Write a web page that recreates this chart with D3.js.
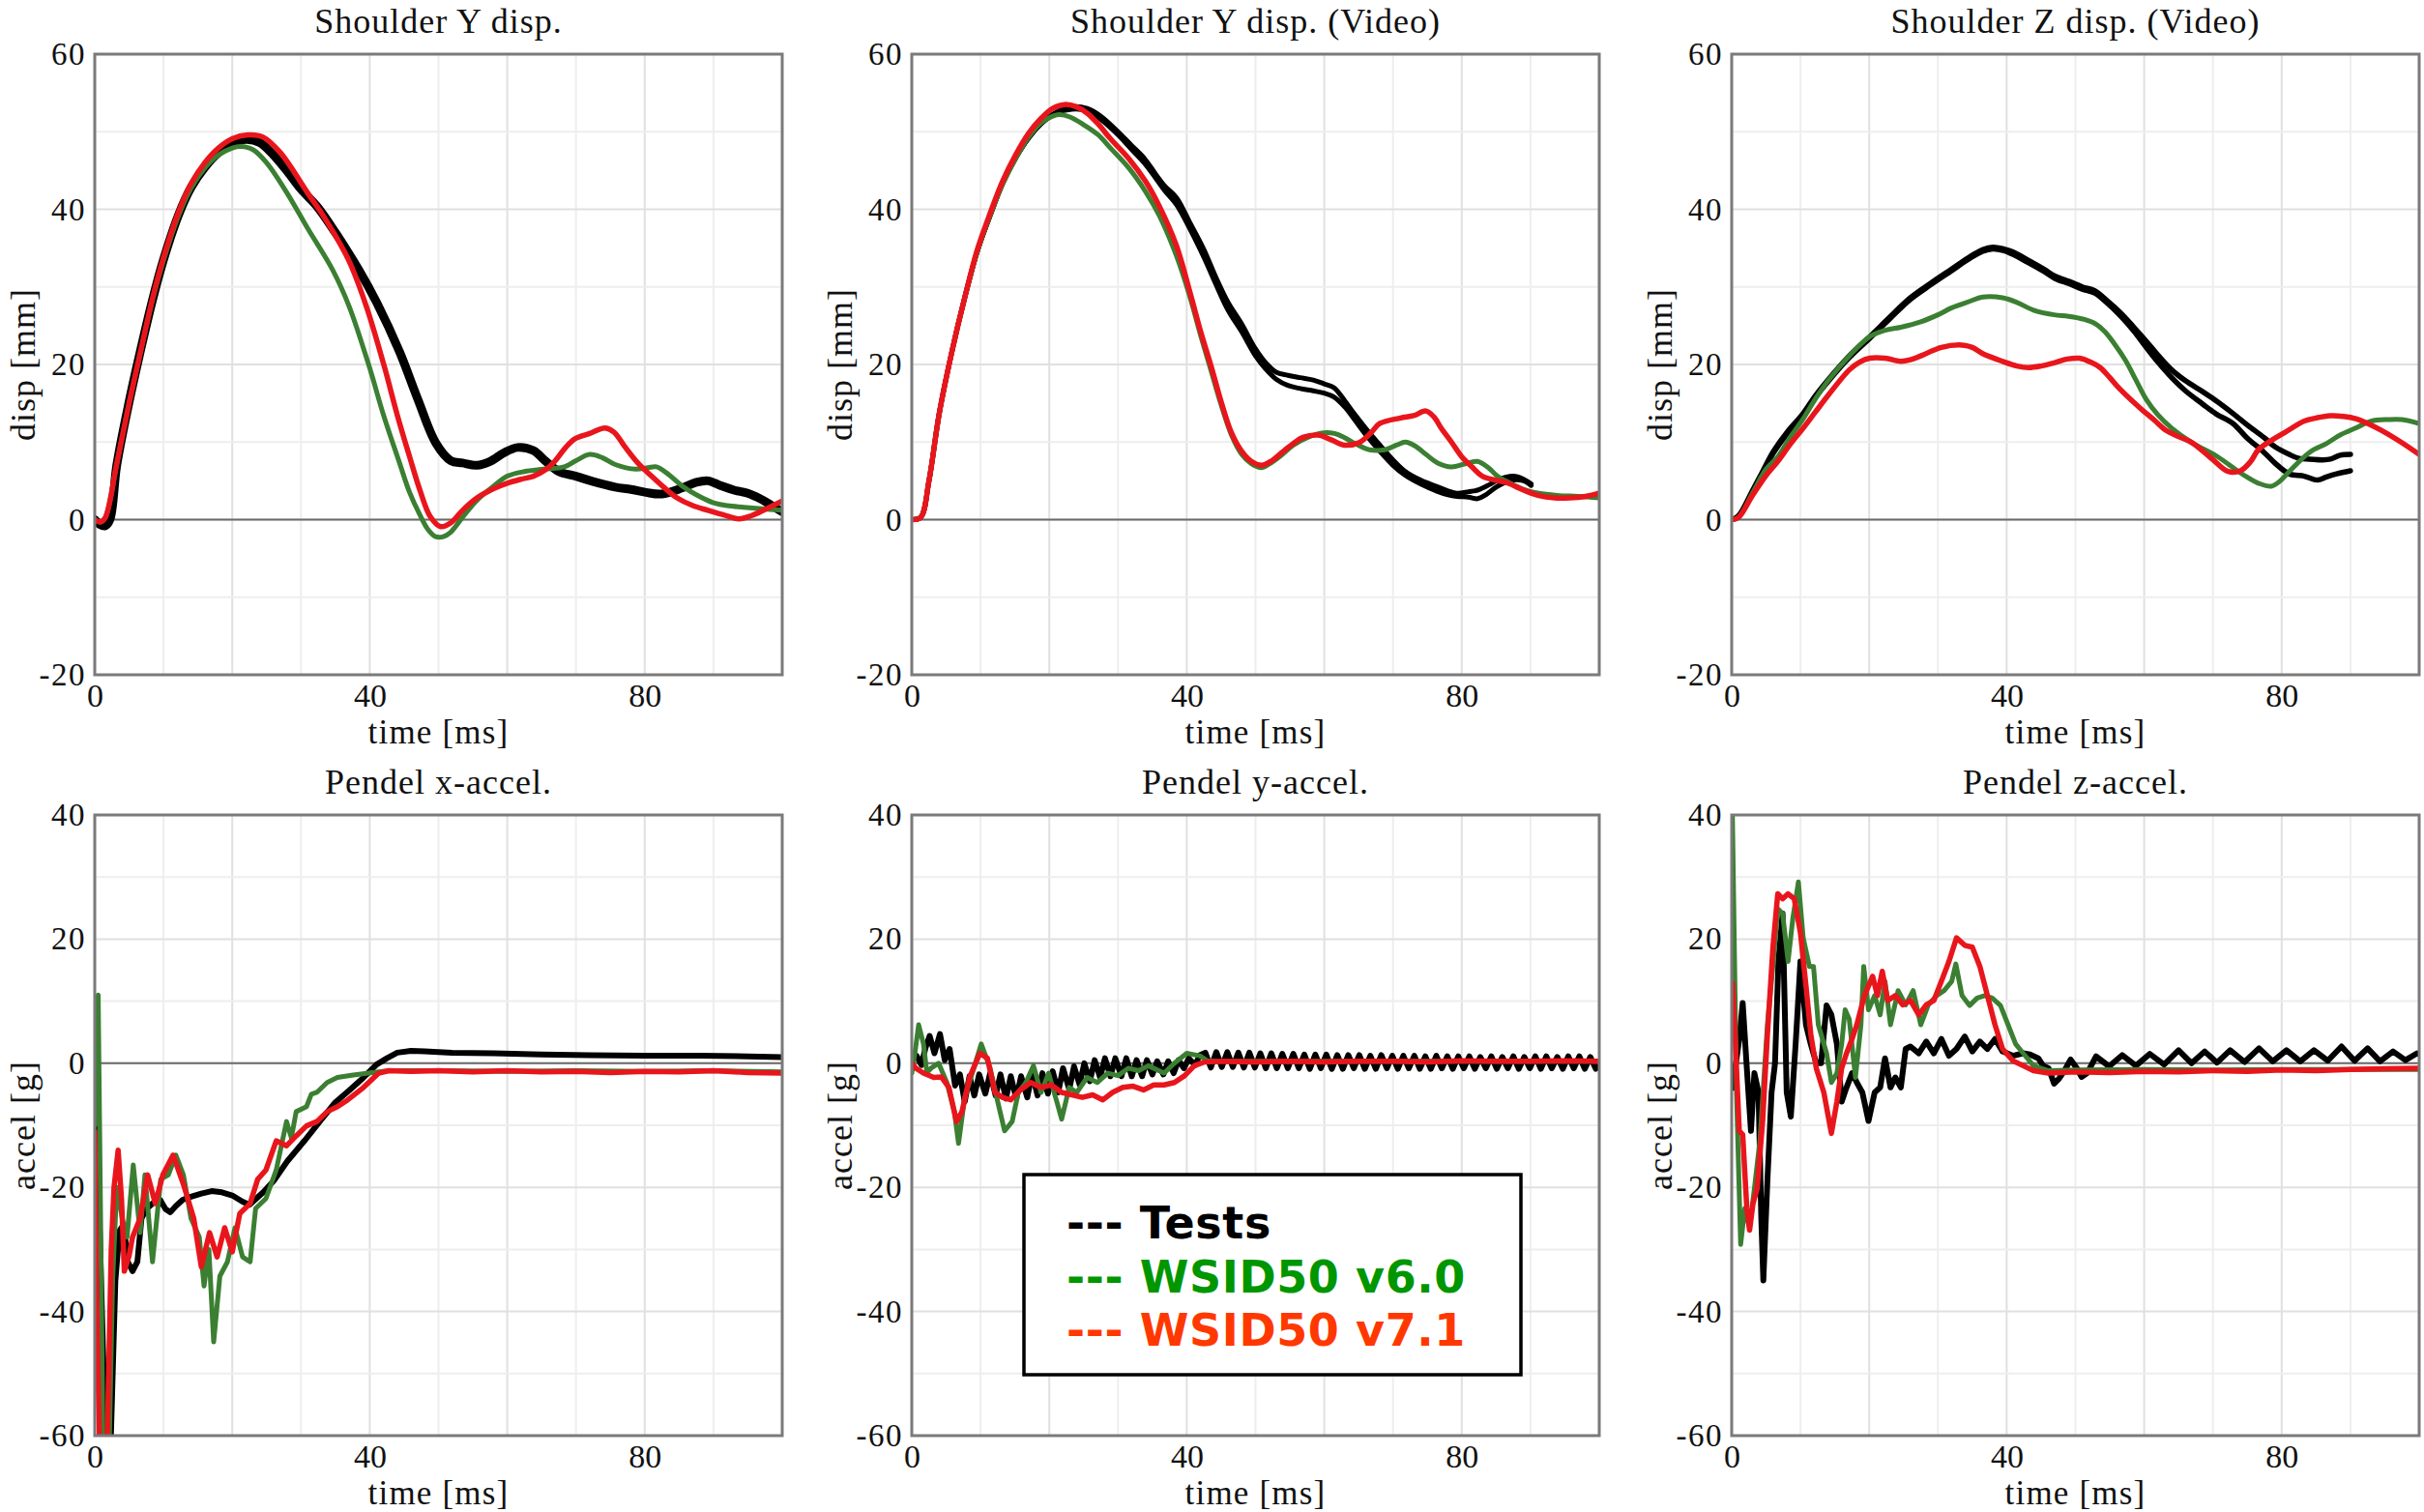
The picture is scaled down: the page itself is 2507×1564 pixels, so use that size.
<!DOCTYPE html>
<html><head><meta charset="utf-8">
<script src="https://cdn.jsdelivr.net/npm/d3@7/dist/d3.min.js"></script>
<style>body{margin:0;background:#fff}svg{display:block}</style>
</head><body><svg id="c" width="2507" height="1564"></svg>
<script>
// ---------- DATA (time [ms], value) ----------
const titles = ["Shoulder Y disp.", "Shoulder Y disp. (Video)", "Shoulder Z disp. (Video)",
                "Pendel x-accel.", "Pendel y-accel.", "Pendel z-accel."];
const yLabels = ["disp [mm]", "disp [mm]", "disp [mm]", "accel [g]", "accel [g]", "accel [g]"];
const xLabel = "time [ms]";
const xTicks = [0, 40, 80];
const yTicksDisp = [-20, 0, 20, 40, 60];
const yTicksAccel = [-60, -40, -20, 0, 20, 40];
const legendLabels = ["Tests", "WSID50 v6.0", "WSID50 v7.1"];

const p1Test = [[0,0],[0.7,-0.6],[1.5,-0.8],[2.2,0],[3.2,7],[5,15.2],[6.5,21.2],[8.4,28.3],[10,33.5],[12.2,39.3],[14,42.8],[16,45.4],[18,47.3],[20,48.5],[22,49],[24,48.6],[26,47],[28,44.9],[30,42.6],[32.4,40.3],[35,37],[38.4,32.2],[41,28],[44.3,21.7],[47,15.5],[49.6,9.9],[51.8,7.6],[53.5,7.3],[55.6,7.0],[57.5,7.5],[59.5,8.6],[61.5,9.3],[63.8,8.9],[65.5,7.6],[67.5,6.2],[70,5.6],[72.5,4.9],[75.7,4.2],[78,3.9],[80.2,3.5],[82.5,3.3],[85.5,4.1],[87.5,4.8],[89.2,5.0],[91,4.4],[93,3.8],[95,3.4],[97,2.6],[98.5,1.8],[100,1.0]];
const p1V60 = [[0,0],[0.8,-0.3],[1.5,0.2],[3.2,7.2],[5,15],[6.5,21],[8.4,28.3],[10,33.4],[12.2,39.2],[14,42.7],[16,45.3],[18,47],[20,47.9],[21.2,48.1],[23,47.7],[25,46],[27.9,42.2],[31,37.5],[34.6,32.2],[37,27.5],[39.9,19.8],[42,13.5],[44.3,7.4],[45.8,3.5],[47.3,0.6],[48.5,-1.3],[49.6,-2.2],[50.7,-2.2],[51.8,-1.6],[53.5,0.3],[55.6,2.5],[58,4.3],[60,5.6],[62.5,6.2],[65.3,6.5],[68.3,6.8],[70,7.6],[72,8.4],[73.8,8.0],[75.7,7.1],[78.7,6.5],[80.5,6.7],[81.7,6.8],[83.5,5.8],[85.5,4.3],[87.5,3.2],[89.9,2.2],[92,1.8],[94.4,1.6],[97,1.4],[100,1.2]];
const p1V71 = [[0,0],[0.8,-0.3],[1.5,0.2],[3.2,7.2],[5,15],[6.5,21],[8.4,28.5],[10,33.8],[12.2,39.7],[14,43.3],[16,46],[18,47.9],[20,49.1],[22.5,49.6],[24.5,49.3],[27,47.3],[30.9,42.2],[33.5,38.8],[36.9,33.5],[39.5,27.5],[42.1,19.8],[44,13.5],[45.8,8.1],[47.3,3.8],[48.8,0.4],[50.3,-0.9],[51.8,-0.4],[53.5,1.2],[55.6,2.8],[58,4.0],[60,4.7],[62,5.2],[63.8,5.6],[65.5,6.4],[66.8,7.4],[68.5,9.3],[69.8,10.4],[72,11.1],[74.2,11.8],[75.5,11.3],[77.2,9.3],[79,7.3],[81,5.6],[83,4.0],[84.7,2.8],[87,1.8],[89.2,1.2],[91.5,0.6],[93.7,0.1],[95.5,0.5],[97.5,1.3],[100,2.4]];

const p2TestA = [[0,0],[1.3,0.3],[2.5,5],[4,13.7],[5.8,21.5],[7.7,28.6],[9.5,34.5],[11.4,39.2],[13.2,43.3],[15.1,46.6],[17,49.2],[18.9,51.1],[21,52.5],[23.3,53.2],[25.5,53],[27.5,52],[30,50],[32,48.2],[33.8,46.6],[35.5,44.5],[36.8,43],[38.5,41.5],[40.5,38.2],[42.5,34.8],[44.2,31.3],[46,28],[48,25.2],[50,22],[51.5,20.2],[53,19],[54.7,18.6],[56.5,18.3],[58.4,18],[60,17.5],[61.4,17.0],[63,15.3],[64.4,13.6],[66,11.8],[68.1,9.6],[70,7.7],[71.8,6.2],[74,5.1],[76.3,4.3],[78,3.7],[79.3,3.4],[81,3.6],[82.3,3.8],[84,4.5],[85.2,5.1],[87.5,5.6],[89,5.2],[90.1,4.6]];
const p2TestB = [[0,0],[1.3,0.3],[2.5,5],[4,13.7],[5.8,21.5],[7.7,28.6],[9.5,34.5],[11.4,39.2],[13.2,43.3],[15.1,46.6],[17,49.2],[18.9,51.1],[21,52.4],[23.3,52.9],[25.5,52.7],[27.5,51.6],[30,49.6],[32,47.7],[33.8,46],[35.5,44],[36.8,42.4],[38.5,40.6],[40.5,37.4],[42.5,33.8],[44.2,30.4],[46,27],[48,24.2],[50,21.1],[51.5,19.4],[53,18.1],[54.7,17.3],[56.5,16.9],[58.4,16.6],[60,16.3],[61.4,15.8],[63,14.5],[64.4,12.9],[66,11.0],[68.1,8.8],[70,7.0],[71.8,5.7],[74,4.6],[76.3,3.7],[78,3.2],[79.3,3.0],[81,2.9],[82.3,2.7],[83.5,3.2],[85.2,4.3],[87.5,5.1],[89,5.0],[90.1,4.4]];
const p2V60 = [[0,0],[1.3,0.3],[2.5,5],[4,13.7],[5.8,21.5],[7.7,28.6],[9.5,34.5],[11.4,39.2],[13.2,43.2],[15.1,46.5],[17,49.3],[18.9,51.2],[20.5,52],[21.5,52.2],[23,51.9],[25,50.9],[27.1,49.6],[29,47.8],[31.5,45.4],[34,42.3],[36,39.2],[38.5,34],[40.5,28.6],[42,23.8],[43.5,19.3],[45,14.8],[46.5,10.9],[48,8.4],[49.4,7.2],[50.9,6.7],[52.4,7.4],[53.9,8.4],[55.5,9.6],[57.6,10.6],[59.9,11.2],[61.5,11.1],[62.9,10.6],[64.5,9.8],[66.6,9.0],[68.8,9.0],[70.5,9.6],[71.8,10.0],[73.2,9.5],[74.8,8.4],[76.5,7.3],[78.5,6.8],[80.5,7.2],[82.3,7.5],[84,6.6],[85.2,5.6],[87.5,4.5],[89.7,3.7],[92,3.3],[94.2,3.1],[97,3.0],[100,2.8]];
const p2V71 = [[0,0],[1.3,0.3],[2.5,5],[4,13.7],[5.8,21.5],[7.7,28.6],[9.5,34.7],[11.4,39.5],[13.2,43.6],[15.1,47],[17,49.8],[18.9,51.8],[20.5,53],[22.2,53.5],[24,53.2],[25.5,52.4],[27.1,51],[29,49],[31.5,46.6],[34,43.6],[36,40.4],[38.5,35.3],[40.5,29.2],[42,24.3],[43.5,19.9],[45,15.2],[46.5,11.2],[48,8.8],[49.4,7.5],[50.9,7.0],[52.4,7.6],[53.9,8.7],[55.5,9.8],[56.9,10.6],[59.1,10.9],[61,10.3],[62.9,9.6],[65.1,9.95],[66.8,11.2],[68.1,12.4],[71.1,13.1],[73,13.4],[74.8,14],[76,13.2],[77,11.8],[78.5,10],[80,8.1],[81.5,6.8],[83,5.6],[86.7,4.7],[89,3.8],[91.2,3.1],[93.5,2.8],[95.7,2.8],[98,3.0],[100,3.4]];

const p3TestA = [[0,0],[1,0.5],[3,3.7],[4.5,6.2],[6,8.7],[8,11.2],[10.4,13.7],[12.2,16],[14.1,18.1],[17,21],[20.1,23.6],[23,26.1],[26,28.6],[29,30.5],[32,32.3],[34.5,33.8],[36.5,34.8],[38,35.1],[39.5,34.9],[40.9,34.5],[43,33.5],[45.4,32.3],[47,31.4],[49.1,30.7],[51,30],[52.8,29.5],[54.5,28.3],[56.5,26.7],[58.5,24.8],[60.3,23],[62,21.2],[64,19.3],[66,17.9],[68.5,16.5],[70.5,15.3],[72.9,13.7],[75,12.2],[77.4,10.6],[79,9.4],[81.1,8.4],[82.5,7.9],[84.1,7.8],[86,7.7],[87.1,7.8],[88.5,8.3],[90,8.4]];
const p3TestB = [[0,0],[1,0.4],[3,3.5],[4.5,6],[6,8.5],[8,11],[10.4,13.5],[12.2,15.8],[14.1,17.9],[17,20.8],[20.1,23.4],[23,25.9],[26,28.4],[29,30.3],[32,32.1],[34.5,33.6],[36.5,34.6],[38,34.9],[39.5,34.7],[40.9,34.2],[43,33.2],[45.4,32.0],[47,31.1],[49.1,30.4],[51,29.7],[52.8,29.2],[54.5,28.0],[56.5,26.3],[58.5,24.3],[60.3,22.2],[62,20.3],[64,18.3],[66,16.6],[68.5,14.9],[70.5,13.6],[72.9,12.4],[75,10.5],[77.4,8.7],[79,7.3],[81.1,5.9],[83.3,5.6],[85.2,5.1],[86.5,5.5],[88,5.9],[90,6.3]];
const p3V60 = [[0,0],[1,0.3],[3,3.4],[5,6.5],[6.7,8.1],[8.5,10.6],[10.4,13],[12.2,15.6],[14.1,18],[17.1,21.1],[20.1,23.6],[22.3,24.4],[24.6,24.8],[27.5,25.5],[30,26.4],[32,27.3],[34.5,28.1],[36.5,28.7],[39.4,28.6],[41.5,28],[43.9,27],[46.9,26.4],[49,26.2],[51.3,25.8],[53,25.2],[54.3,24.2],[55.8,22.5],[57.3,20.5],[58.8,18],[60.3,15.5],[62,13.5],[64,11.8],[67,9.9],[70.7,8.1],[73.7,6.2],[75.5,5.2],[76.6,4.7],[78.5,4.3],[79.8,5.0],[81.1,6.2],[84.1,8.7],[86.5,9.8],[88.5,10.9],[91,11.9],[93,12.7],[95.5,12.9],[97.5,12.9],[100,12.4]];
const p3V71 = [[0,0],[1,0.3],[3,3.1],[5,5.7],[6.7,7.5],[8.5,9.7],[10.4,11.8],[12.2,13.9],[14.1,16.1],[17.1,19.3],[18.6,20.3],[20.1,20.8],[22.3,20.8],[24.6,20.4],[26,20.6],[27.5,21.1],[30.5,22.2],[33.5,22.5],[35,22.2],[36.5,21.4],[39.4,20.4],[41.5,19.8],[43.2,19.6],[45,19.8],[46.9,20.2],[48.8,20.7],[50.6,20.8],[52.2,20.3],[53.6,19.6],[55,18.3],[56.5,16.8],[59.5,14.3],[61.5,12.8],[63.2,11.5],[65,10.7],[67,9.9],[69.9,7.8],[72.2,6.2],[74,6.3],[75.5,7.5],[76.6,9.0],[78.5,10.2],[80.4,11.2],[83.3,12.7],[85,13.1],[87.1,13.4],[89,13.3],[90.8,13],[92.5,12.4],[94.5,11.5],[97.5,9.9],[100,8.4]];

const p4Test = [[0,-2],[0.8,-30],[1.6,-62],[2.3,-62],[3,-35],[3.6,-27],[4.2,-26],[4.8,-32],[5.5,-33.5],[6.2,-32],[6.8,-25],[7.5,-23.5],[8.5,-22.5],[9.5,-22],[10.3,-23.5],[11,-24],[11.8,-23],[12.8,-22],[14,-21.5],[15.5,-21],[17,-20.6],[18.5,-20.8],[20,-21.3],[21.5,-22.3],[22.5,-22.8],[23.5,-21.8],[24.5,-20.8],[26,-19],[28,-15.8],[30.5,-12.5],[33,-9],[35,-6.3],[37,-4.4],[39,-2.4],[41,-0.2],[42.5,0.8],[44,1.7],[46,2.0],[48,1.9],[52,1.7],[58,1.6],[65,1.4],[72,1.3],[80,1.2],[88,1.2],[95,1.1],[100,1.0]];
const p4V60 = [[0,-10],[0.3,8],[0.5,11],[0.8,-20],[1.2,-62],[2.1,-62],[2.6,-35],[3.2,-20],[4,-25],[4.7,-28],[5.6,-16.4],[6.6,-27.3],[7.3,-18],[8.4,-32],[9.6,-18.7],[10.7,-18],[11.8,-14.8],[12.9,-18],[14,-25],[15.2,-28],[15.9,-35.9],[16.6,-30],[17.3,-44.9],[18.2,-34.3],[19.3,-32],[20.4,-26.5],[21.5,-31.2],[22.6,-32],[23.4,-23.4],[24.9,-21.8],[26.4,-17.2],[27.2,-13],[27.9,-9.4],[28.6,-12],[29.3,-7.8],[30.8,-7],[31.5,-5],[32.3,-4.7],[33.8,-3.1],[35.3,-2.3],[37.6,-1.9],[39.8,-1.6],[42.8,-1.2],[50,-1.2],[60,-1.3],[70,-1.2],[80,-1.3],[90,-1.2],[100,-1.4]];
const p4V71 = [[0,-11],[0.3,-40],[0.7,-62],[1.8,-62],[2.4,-30],[2.8,-20],[3.4,-14],[3.9,-22],[4.3,-33.5],[5,-31],[5.5,-28],[6.6,-25],[7.7,-18],[8.8,-22.6],[9.9,-18],[11.4,-14.8],[12.9,-19.5],[14.4,-25],[15.5,-32.8],[16.7,-27.3],[17.8,-31.2],[18.9,-26.5],[20,-30.4],[21.1,-24.2],[22.6,-22.6],[23.7,-18.7],[24.9,-17.2],[26.4,-12.5],[27.9,-13.3],[29.3,-11.7],[30.8,-10.1],[32.3,-9.4],[33.8,-7.8],[35.3,-7],[36.8,-5.9],[39.1,-3.9],[41.3,-1.6],[42.8,-1.2],[46,-1.3],[50,-1.2],[55,-1.4],[60,-1.2],[65,-1.4],[70,-1.3],[75,-1.5],[80,-1.3],[85,-1.4],[90,-1.2],[95,-1.5],[100,-1.6]];

const p5Test = [[0,0.8],[0.7,1.2],[1.4,-0.3],[2.0,2.5],[2.6,4.4],[3.3,1.6],[4.1,4.7],[4.8,0.5],[5.5,2.3],[6.3,-3.6],[7.0,-1.8],[7.7,-6.2],[8.4,-2.1],[9.1,-5.2],[9.8,-1.8],[10.7,-4.9],[11.4,-1.6],[12.2,-5.2],[12.9,-1.8],[13.7,-5.7],[14.4,-2.1],[15.2,-5.7],[15.9,-2.1],[16.8,-5.5],[17.5,-1.6],[18.3,-5.2],[19.0,-1.6],[19.8,-4.9],[20.5,-1.3],[21.3,-4.7],[22.0,-0.8],[22.9,-4.2],[23.6,-0.5],[24.4,-3.4],[25.1,0],[25.9,-2.9],[26.6,0.5],[27.4,-2.3],[28.1,0.8],[28.9,-2.1],[29.6,0.8],[30.5,-2.1],[31.2,0.8],[32.0,-2.1],[32.7,0.5],[33.5,-2.1],[34.2,0.5],[35.0,-1.8],[35.7,0.3],[36.6,-1.8],[37.3,0.3],[38.1,-1.6],[38.8,0.5],[39.6,-0.8],[40.3,0.8],[41.2,-0.3],[41.9,1.3],
  [42.7,1.7],[43.5,-0.7],[44.3,1.8],[45.1,-0.6],[45.9,1.8],[46.7,-0.6],[47.5,1.7],[48.3,-0.7],[49.1,1.7],[49.9,-0.7],[50.7,1.6],[51.5,-0.8],[52.3,1.6],[53.1,-0.8],[53.9,1.5],[54.7,-0.8],[55.5,1.5],[56.3,-0.8],[57.1,1.4],[57.9,-0.9],[58.7,1.4],[59.5,-0.8],[60.3,1.4],[61.1,-0.9],[61.9,1.3],[62.7,-0.9],[63.5,1.3],[64.3,-0.8],[65.1,1.3],[65.9,-0.9],[66.7,1.2],[67.5,-0.9],[68.3,1.3],[69.1,-0.8],[69.9,1.2],[70.7,-0.9],[71.5,1.2],[72.3,-0.8],[73.1,1.2],[73.9,-0.9],[74.7,1.1],[75.5,-0.9],[76.3,1.2],[77.1,-0.8],[77.9,1.1],[78.7,-0.9],[79.5,1.1],[80.3,-0.8],[81.1,1.1],[81.9,-0.9],[82.7,1.0],[83.5,-0.8],[84.3,1.1],[85.1,-0.9],[85.9,1.0],[86.7,-0.8],[87.5,1.1],[88.3,-0.9],[89.1,1.0],[89.9,-0.8],[90.7,1.1],[91.5,-0.9],[92.3,1.1],[93.1,-0.8],[93.9,1.0],[94.7,-0.9],[95.5,1.1],[96.3,-0.8],[97.1,1.1],[97.9,-0.9],[98.7,1.0],[99.5,-0.9],[100.3,0.6]];
const p5V60 = [[0,-1.6],[0.5,2],[1,6.2],[1.7,3.1],[2.2,-1.5],[2.8,-0.8],[3.9,0],[5.1,-3.1],[6.2,-7.8],[6.8,-12.9],[7.7,-5.5],[8.8,-1.6],[10.1,3.1],[11.4,-0.8],[12.5,-6.2],[13.5,-10.9],[14.6,-9.4],[15.5,-4.7],[16.6,-3.1],[17.7,-0.4],[18.8,-4.7],[19.9,-1.6],[21.1,-6.2],[21.8,-9],[22.9,-3.9],[24,-4.7],[25.5,-2.3],[27,-3.1],[28.5,-1.6],[30,-2],[31.5,-0.8],[33,-1.2],[34.4,-0.4],[36.7,-1.6],[38.2,0],[40,1.6],[41.9,1.2],[43,0.4],[45,0.3],[55,0.3],[70,0.3],[85,0.3],[100,0.3]];
const p5V71 = [[0,0],[0.6,-0.8],[1.7,-1.6],[3.2,-2.3],[4.3,-2.2],[5.4,-3.9],[6.5,-9.4],[7.3,-7.8],[8.4,-2.3],[9.9,1.6],[11,0.8],[12.1,-4.7],[13.2,-5.5],[14.4,-5.9],[15.8,-4.3],[17.3,-3.1],[18.8,-3.9],[20.3,-3.5],[21.8,-4.7],[23.3,-5.1],[24.8,-5.5],[26.3,-5.1],[27.8,-5.9],[29.2,-4.7],[30.7,-3.9],[32.2,-3.7],[33.7,-4.3],[35.2,-3.5],[36.7,-3.5],[38.2,-3.1],[39.7,-2],[41.1,-0.4],[42.6,0.2],[45,0.3],[50,0.2],[55,0.3],[60,0.2],[65,0.3],[70,0.3],[75,0.2],[80,0.4],[85,0.3],[90,0.3],[95,0.4],[100,0.3]];

const p6Test = [[0.1,-4],[1.1,3.9],[1.6,9.7],[2.2,-0.8],[2.8,-10.9],[3.3,-1.6],[3.9,-4.7],[4.3,-24.9],[4.6,-35],[5.2,-18.7],[5.8,-4.7],[6.3,0],[6.8,16.4],[7.4,24.1],[8,-4.7],[8.6,-8.6],[9.3,3.1],[10,16.4],[10.8,6.2],[11.5,3.1],[12.3,0],[13,0],[13.8,9.3],[14.5,7.8],[15.3,3.1],[16,-6.2],[16.7,-3.9],[17.5,-1.6],[18.2,-3.1],[19,-4.7],[19.9,-9.3],[20.8,-4.7],[21.6,-3.9],[22.3,0.8],[23.1,-3.9],[23.8,-2.3],[24.6,-3.9],[25.3,2.3],[26,2.7],[27.2,1.6],[28.3,3.5],[29.4,1.6],[30.5,3.9],[31.6,1.2],[32.7,2.3],[33.9,4.3],[35,1.9],[36.1,3.5],[37.2,2.3],[38.3,3.9],[39.4,1.9],[40.9,1.2],[42.4,1.6],[43.4,1.4],[44.6,0.8],[45.3,-0.4],[46.1,-0.8],[46.9,-3.3],[47.6,-2.5],[48.4,-1.2],[49.3,0.6],[50.2,-0.8],[50.9,-2.2],[51.7,-1.6],[53,1.1],[54.9,-0.5],[56.8,1.3],[58.8,-0.4],[60.8,1.5],[62.9,-0.2],[65,2.1],[66.9,0],[68.8,1.9],[70.6,0.1],[72.5,2.1],[74.6,0.2],[76.7,2.4],[78.7,0.3],[80.7,2.1],[82.7,0.3],[84.7,2.1],[86.7,0.4],[88.7,2.7],[90.6,0.4],[92.5,2.4],[94.3,0.3],[96.2,1.9],[98,0.5],[99.7,1.6],[100.5,1.2]];
const p6V60 = [[0.1,40],[0.7,-4.7],[1.3,-29.2],[1.9,-23.4],[2.6,-26.5],[3.3,-20.2],[4.1,-12.5],[5.2,6.2],[6.1,17.1],[6.7,24.9],[7.4,24.1],[8.2,16.4],[8.9,23.4],[9.7,29.2],[10.4,20.2],[11.3,15.6],[11.9,15.6],[12.6,6.2],[13.8,1.6],[14.5,-3.1],[15.3,-1.6],[16,3.1],[16.5,8.6],[17.1,7.1],[18,-2.3],[18.8,6.2],[19.2,15.6],[19.9,8.6],[20.8,10.9],[21.6,7.8],[22.3,13.2],[23.1,6.2],[24.2,11.7],[25.3,9.4],[26.4,11.7],[27.5,6.2],[28.6,9.4],[29.8,10.9],[30.9,11.7],[32,13.2],[32.6,16],[33.5,10.9],[34.6,9.3],[35.7,10.5],[36.8,10.9],[37.9,10.5],[39.1,9.3],[40.2,6.2],[41.3,3.1],[42.4,1.6],[43.9,-0.4],[46.1,-1.2],[50,-1.1],[60,-1.0],[70,-1.1],[80,-1.0],[90,-1.0],[100,-1.0]];
const p6V71 = [[0.1,12.9],[0.6,1.6],[1.1,-10.9],[1.6,-11.5],[2.2,-23.4],[2.6,-26.9],[3.1,-22.6],[3.7,-20.2],[4.5,-9.3],[5.2,4.7],[6,18.7],[6.7,27.3],[7.4,26.5],[8.2,27.3],[9.1,26.5],[10,21],[10.8,12.5],[11.5,4.7],[12.3,-0.8],[13.4,-4.7],[14.5,-11.3],[15.3,-6.2],[16,-0.8],[16.7,1.6],[17.5,3.9],[18.2,6.2],[19.3,10.9],[20.5,14],[21.2,10.9],[21.9,14.8],[22.7,10.1],[23.8,10.9],[24.9,9.4],[26,10.1],[27.2,7.8],[28.3,9.4],[29.4,10.1],[30.5,13.2],[31.6,16.4],[32.7,20.2],[33.9,19],[35,18.7],[36.1,15.6],[37.2,10.9],[38.3,6.2],[39.4,2.3],[40.9,0.4],[42.4,-0.4],[43.9,-1.2],[46.1,-1.6],[50,-1.4],[55,-1.5],[60,-1.3],[65,-1.4],[70,-1.2],[75,-1.3],[80,-1.1],[85,-1.2],[90,-1.0],[95,-0.9],[100,-0.8]];

// ---------- LAYOUT / STYLE ----------
const colX = [98, 943, 1791], rowY = [56, 843];
const W = 711, H = 642;
const C_TEST = "#000000", C_V60 = "#3b7f32", C_V71 = "#e8161c";
const LEG_COLORS = ["#000000", "#009600", "#ff3800"];
const SERIF = "'Liberation Serif','Times New Roman',serif";

const panels = [
  {title: titles[0], yl: yLabels[0], dom: [-20,60], ticks: yTicksDisp, smooth: true,
   series: [{d:p1Test,c:C_TEST,w:9},{d:p1V60,c:C_V60,w:5},{d:p1V71,c:C_V71,w:5.5}]},
  {title: titles[1], yl: yLabels[1], dom: [-20,60], ticks: yTicksDisp, smooth: true,
   series: [{d:p2TestA,c:C_TEST,w:5},{d:p2TestB,c:C_TEST,w:5},{d:p2V60,c:C_V60,w:5},{d:p2V71,c:C_V71,w:5.5}]},
  {title: titles[2], yl: yLabels[2], dom: [-20,60], ticks: yTicksDisp, smooth: true,
   series: [{d:p3TestA,c:C_TEST,w:5.5},{d:p3TestB,c:C_TEST,w:5.5},{d:p3V60,c:C_V60,w:5},{d:p3V71,c:C_V71,w:5.5}]},
  {title: titles[3], yl: yLabels[3], dom: [-60,40], ticks: yTicksAccel, smooth: false,
   series: [{d:p4Test,c:C_TEST,w:6},{d:p4V60,c:C_V60,w:5},{d:p4V71,c:C_V71,w:5.5}]},
  {title: titles[4], yl: yLabels[4], dom: [-60,40], ticks: yTicksAccel, smooth: false,
   series: [{d:p5Test,c:C_TEST,w:6},{d:p5V60,c:C_V60,w:5},{d:p5V71,c:C_V71,w:5.5}]},
  {title: titles[5], yl: yLabels[5], dom: [-60,40], ticks: yTicksAccel, smooth: false,
   series: [{d:p6Test,c:C_TEST,w:6},{d:p6V60,c:C_V60,w:5},{d:p6V71,c:C_V71,w:5.5}]}
];

const svg = d3.select("#c");
svg.append("rect").attr("width",2507).attr("height",1564).attr("fill","#fff");

panels.forEach((p, i) => {
  const row = Math.floor(i / 3);
  const ox = colX[i % 3], oy = rowY[row];
  const g = svg.append("g").attr("transform", `translate(${ox},${oy})`);
  const x = d3.scaleLinear().domain([0, 100]).range([0, W]);
  const y = d3.scaleLinear().domain(p.dom).range([H, 0]);

  // grid
  const gx = d3.range(10, 100, 10), gy = d3.range(p.dom[0] + 10, p.dom[1], 10);
  g.append("g").selectAll("line").data(gx).join("line")
    .attr("x1", d => x(d)).attr("x2", d => x(d)).attr("y1", 0).attr("y2", H)
    .attr("stroke", d => d % 20 === 0 ? "#e0e0e0" : "#eeeeee").attr("stroke-width", 2);
  g.append("g").selectAll("line").data(gy).join("line")
    .attr("y1", d => y(d)).attr("y2", d => y(d)).attr("x1", 0).attr("x2", W)
    .attr("stroke", d => d % 20 === 0 ? "#e0e0e0" : "#eeeeee").attr("stroke-width", 2);
  // zero line
  g.append("line").attr("x1", 0).attr("x2", W).attr("y1", y(0)).attr("y2", y(0))
    .attr("stroke", "#6a6a6a").attr("stroke-width", 2);

  // clip
  const cid = "clip" + i;
  g.append("clipPath").attr("id", cid).append("rect")
    .attr("x", 0).attr("y", 0).attr("width", W).attr("height", H);
  const line = d3.line().x(d => x(d[0])).y(d => y(d[1]))
    .curve(p.smooth ? d3.curveCatmullRom.alpha(0.5) : d3.curveLinear);
  const lg = g.append("g").attr("clip-path", `url(#${cid})`);
  p.series.forEach(s => {
    lg.append("path").attr("d", line(s.d)).attr("fill", "none")
      .attr("stroke", s.c).attr("stroke-width", s.w)
      .attr("stroke-linejoin", "round").attr("stroke-linecap", "round");
  });

  // frame
  g.append("rect").attr("x", 0).attr("y", 0).attr("width", W).attr("height", H)
    .attr("fill", "none").attr("stroke", "#7a7a7a").attr("stroke-width", 3);

  // axes
  const ya = g.append("g").call(d3.axisLeft(y).tickValues(p.ticks).tickSize(0).tickPadding(9)
    .tickFormat(d => String(d)));
  ya.select(".domain").remove();
  ya.selectAll("text").attr("font-family", SERIF).attr("font-size", 33)
    .attr("letter-spacing", 1.5).attr("fill", "#111");
  const xa = g.append("g").attr("transform", `translate(0,${H})`)
    .call(d3.axisBottom(x).tickValues(xTicks).tickSize(0).tickPadding(9).tickFormat(d => String(d)));
  xa.select(".domain").remove();
  xa.selectAll("text").attr("font-family", SERIF).attr("font-size", 34).attr("fill", "#111");

  // labels
  g.append("text").attr("x", W / 2).attr("y", -22).attr("text-anchor", "middle")
    .attr("font-family", SERIF).attr("font-size", 36).attr("letter-spacing", 1)
    .attr("fill", "#111").text(p.title);
  g.append("text").attr("x", W / 2).attr("y", H + 71).attr("text-anchor", "middle")
    .attr("font-family", SERIF).attr("font-size", 35).attr("letter-spacing", 1.2)
    .attr("fill", "#111").text(xLabel);
  g.append("text").attr("transform", `translate(-62,${H / 2}) rotate(-90)`)
    .attr("text-anchor", "middle").attr("font-family", SERIF).attr("font-size", 36)
    .attr("letter-spacing", 1).attr("fill", "#111").text(p.yl);
});

// legend
const leg = svg.append("g");
leg.append("rect").attr("x", 1059).attr("y", 1215).attr("width", 514).attr("height", 207)
  .attr("fill", "#fff").attr("stroke", "#000").attr("stroke-width", 3.5);
leg.selectAll("text").data(legendLabels).join("text")
  .attr("x", 1103).attr("y", (d, i) => 1281 + i * 55.5)
  .attr("font-family", "'DejaVu Sans',Verdana,sans-serif").attr("font-weight", "bold")
  .attr("font-size", 46).attr("letter-spacing", 0.6).attr("fill", (d, i) => LEG_COLORS[i])
  .text(d => "--- " + d);
</script></body></html>
